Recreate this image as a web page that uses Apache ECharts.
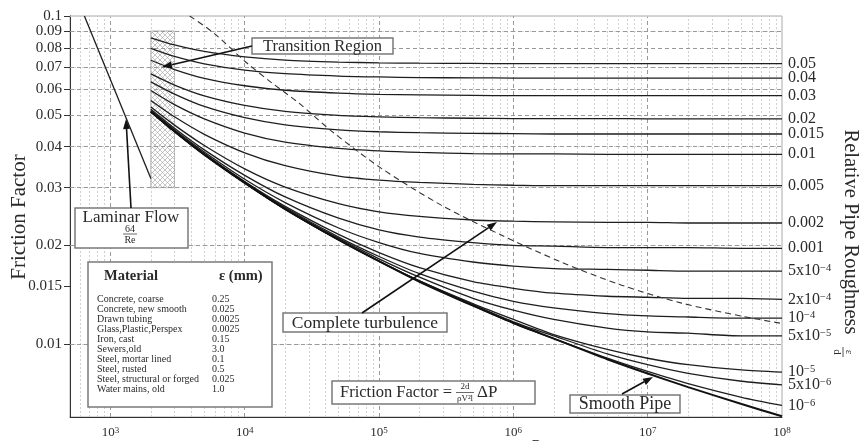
<!DOCTYPE html>
<html><head><meta charset="utf-8">
<script src="https://cdn.jsdelivr.net/npm/echarts@6/dist/echarts.min.js"></script>
<style>html,body{margin:0;padding:0;background:#fff}#c{width:859px;height:441px}</style>
</head><body><div id="c"></div>
<script>
// ---------------- DATA ----------------
const reynoldsPts = [2000,3000,5000,10000,20000,50000,1e5,2e5,5e5,1e6,2e6,5e6,1e7,2e7,5e7,1e8];
const f005  = [0.0858,0.0816,0.0780,0.0751,0.0734,0.0724,0.0720,0.0718,0.0717,0.0716,0.0716,0.0716,0.0716,0.0716,0.0716,0.0716];
const f004  = [0.0797,0.0753,0.0715,0.0684,0.0667,0.0656,0.0652,0.0649,0.0648,0.0647,0.0647,0.0647,0.0647,0.0647,0.0647,0.0647];
const f003  = [0.0733,0.0687,0.0646,0.0613,0.0594,0.0582,0.0577,0.0575,0.0573,0.0572,0.0572,0.0572,0.0572,0.0572,0.0572,0.0572];
const f002  = [0.0666,0.0616,0.0571,0.0534,0.0512,0.0498,0.0493,0.0490,0.0488,0.0487,0.0487,0.0487,0.0486,0.0486,0.0486,0.0486];
const f0015 = [0.0630,0.0578,0.0530,0.0490,0.0466,0.0450,0.0444,0.0441,0.0439,0.0438,0.0437,0.0437,0.0437,0.0437,0.0437,0.0437];
const f001  = [0.0593,0.0537,0.0486,0.0440,0.0413,0.0395,0.0388,0.0384,0.0381,0.0380,0.0380,0.0379,0.0379,0.0379,0.0379,0.0379];
const f0005 = [0.0553,0.0493,0.0436,0.0383,0.0350,0.0325,0.0316,0.0311,0.0307,0.0305,0.0304,0.0304,0.0304,0.0304,0.0304,0.0304];
const f0002 = [0.0528,0.0465,0.0403,0.0342,0.0301,0.0268,0.0253,0.0245,0.0239,0.0237,0.0236,0.0235,0.0235,0.0234,0.0234,0.0234];
const f0001 = [0.0520,0.0455,0.0391,0.0327,0.0281,0.0242,0.0223,0.0212,0.0204,0.0200,0.0199,0.0197,0.0197,0.0197,0.0196,0.0196];
const f5em4 = [0.0515,0.0450,0.0385,0.0318,0.0270,0.0226,0.0204,0.0189,0.0178,0.0173,0.0170,0.0169,0.0168,0.0167,0.0167,0.0167];
const f2em4 = [0.0513,0.0447,0.0381,0.0313,0.0263,0.0216,0.0190,0.0171,0.0155,0.0148,0.0143,0.0140,0.0139,0.0138,0.0138,0.0137];
const f1em4 = [0.0512,0.0446,0.0380,0.0312,0.0261,0.0212,0.0185,0.0164,0.0145,0.0135,0.0129,0.0124,0.0122,0.0121,0.0120,0.0120];
const f5em5 = [0.0511,0.0445,0.0379,0.0311,0.0259,0.0210,0.0182,0.0160,0.0138,0.0127,0.0119,0.0112,0.0109,0.0108,0.0106,0.0106];
const f1em5 = [0.0511,0.0445,0.0379,0.0310,0.0258,0.0208,0.0179,0.0156,0.0133,0.0119,0.0107,0.00964,0.00906,0.00866,0.00835,0.00822];
const f5em6 = [0.0511,0.0445,0.0378,0.0310,0.0258,0.0208,0.0179,0.0156,0.0132,0.0117,0.0106,0.00934,0.00866,0.00815,0.00771,0.00752];
const f1em6 = [0.0511,0.0445,0.0378,0.0310,0.0258,0.0208,0.0179,0.0155,0.0131,0.0116,0.0104,0.00907,0.00826,0.00758,0.00689,0.00651];
const fSmooth = [0.0511,0.0445,0.0378,0.0310,0.0258,0.0208,0.0179,0.0155,0.0131,0.0116,0.0104,0.00900,0.00814,0.00740,0.00657,0.00603];

const roughnessLabels = ['0.05','0.04','0.03','0.02','0.015','0.01','0.005','0.002','0.001',
  '5x10{s|−4}','2x10{s|−4}','10{s|−4}','5x10{s|−5}','10{s|−5}','5x10{s|−6}','10{s|−6}'];
const roughnessCurves = [f005,f004,f003,f002,f0015,f001,f0005,f0002,f0001,f5em4,f2em4,f1em4,f5em5,f1em5,f5em6,f1em6];

const laminarRe = [640, 2000];
const laminarF  = [0.1, 0.032];

const turbRe = [3890, 5870, 10170, 15630, 25290, 46130, 103500, 290100, 813700, 2281000, 6398000, 17940000, 50280000, 96600000];
const turbF  = [0.1, 0.0888, 0.0724, 0.0629, 0.0543, 0.0440, 0.0344, 0.02653, 0.02150, 0.01778, 0.01513, 0.01334, 0.01217, 0.01159];

const transRe = [2000, 3000];
const transF  = [0.03, 0.09];

const xTickValues = [1e3,1e4,1e5,1e6,1e7,1e8];
const yTickValues = [0.1,0.09,0.08,0.07,0.06,0.05,0.04,0.03,0.02,0.015,0.01];
const xGridMajor = [1e3,1e4,1e5,1e6,1e7];
const xGridMinor = [600,700,800,900,2e3,3e3,4e3,5e3,6e3,7e3,8e3,9e3,2e4,3e4,4e4,5e4,6e4,7e4,8e4,9e4,
  2e5,3e5,4e5,5e5,6e5,7e5,8e5,9e5,2e6,3e6,4e6,5e6,6e6,7e6,8e6,9e6,2e7,3e7,4e7,5e7,6e7,7e7,8e7,9e7];
const yGridMajor = [0.09,0.08,0.07,0.06,0.05,0.04,0.03,0.02,0.015,0.01];
const yGridMinor = [0.095,0.085,0.075,0.065,0.055,0.045,0.035,0.025,0.0175,0.0125,0.009,0.008,0.007];

const materials = ['Concrete, coarse','Concrete, new smooth','Drawn tubing','Glass,Plastic,Perspex','Iron, cast',
  'Sewers,old','Steel, mortar lined','Steel, rusted','Steel, structural or forged','Water mains, old'];
const materialEps = ['0.25','0.025','0.0025','0.0025','0.15','3.0','0.1','0.5','0.025','1.0'];

// ---------------- CHART ----------------
const FONT = '"Liberation Serif", "DejaVu Serif", serif';
const TXT = '#2a2a2a';
const chart = echarts.init(document.getElementById('c'), null, {renderer:'canvas'});

const hatch = document.createElement('canvas');
hatch.width = 5; hatch.height = 5;
(function(){
  const g = hatch.getContext('2d');
  g.fillStyle = '#fff'; g.fillRect(0,0,5,5);
  g.strokeStyle = '#aaa'; g.lineWidth = 0.7;
  g.beginPath(); g.moveTo(0,0); g.lineTo(5,5); g.moveTo(5,0); g.lineTo(0,5); g.stroke();
})();

const series = [];
series.push({
  type:'line', data:[], silent:true, z:1,
  markLine:{ silent:true, symbol:['none','none'], label:{show:false}, animation:false,
    data: [].concat(
      xGridMinor.map(v=>({xAxis:v, lineStyle:{color:'#c4c4c4', type:[2,2], width:0.8}})),
      xGridMajor.map(v=>({xAxis:v, lineStyle:{color:'#999', type:[4,3], width:1}})),
      yGridMinor.map(v=>({yAxis:v, lineStyle:{color:'#d0d0d0', type:[2,2], width:0.8}})),
      yGridMajor.map(v=>({yAxis:v, lineStyle:{color:'#999', type:[4,3], width:1}}))
    )},
  markArea:{ silent:true, itemStyle:{color:{image:hatch, repeat:'repeat'}, borderColor:'#999', borderWidth:0.8},
    data:[[{coord:[transRe[0], transF[1]]},{coord:[transRe[1], transF[0]]}]]}
});
roughnessCurves.forEach((arr,i)=>{
  series.push({
    type:'line', name: roughnessLabels[i], showSymbol:false, smooth:0.25, z:5,
    data: reynoldsPts.map((r,j)=>[r, arr[j]]),
    lineStyle:{color:'#1e1e1e', width:1.3},
    endLabel:{show:true, formatter: roughnessLabels[i], distance:6, color:TXT, fontFamily:FONT, fontSize:16,
      rich:{s:{fontSize:10.5, fontFamily:FONT, color:TXT, verticalAlign:'top', lineHeight:16}}}
  });
});
series.push({type:'line', name:'smooth', showSymbol:false, smooth:0.25, z:6,
  data: reynoldsPts.map((r,j)=>[r, fSmooth[j]]), lineStyle:{color:'#111', width:2}});
series.push({type:'line', name:'laminar', showSymbol:false, z:5,
  data: laminarRe.map((r,j)=>[r, laminarF[j]]), lineStyle:{color:'#1e1e1e', width:1.3}});
series.push({type:'line', name:'turb', showSymbol:false, smooth:0.3, z:5,
  data: turbRe.map((r,j)=>[r, turbF[j]]), lineStyle:{color:'#333', width:1.1, type:[6,4]}});

function arrow(x1,y1,x2,y2){
  const a = Math.atan2(y2-y1, x2-x1), L = 10, W = 3.5;
  const bx = x2 - L*Math.cos(a), by = y2 - L*Math.sin(a);
  return [
    {type:'line', z:50, shape:{x1:x1,y1:y1,x2:bx,y2:by}, style:{stroke:'#111', lineWidth:1.6}},
    {type:'polygon', z:50, shape:{points:[[x2,y2],[bx - W*Math.sin(a), by + W*Math.cos(a)],[bx + W*Math.sin(a), by - W*Math.cos(a)]]}, style:{fill:'#111'}}
  ];
}
function box(x,y,w,h){ return {type:'rect', z:40, shape:{x:x,y:y,width:w,height:h}, style:{fill:'#fff', stroke:'#7a7a7a', lineWidth:1.5}}; }
function txt(x,y,t,size,opt){ opt=opt||{}; return {type:'text', z:45, x:x, y:y, rotation:opt.rot||0,
  style:{text:t, font:(opt.bold?'bold ':'')+size+'px '+FONT, fill:TXT, align:opt.align||'left', verticalAlign:'middle'}}; }

const g = [];
g.push(txt(19, 217, 'Friction Factor', 21, {align:'center', rot:Math.PI/2}));
g.push(txt(850, 232, 'Relative Pipe Roughness', 20.5, {align:'center', rot:-Math.PI/2}));
g.push({type:'group', x:843, y:352, rotation:-Math.PI/2, z:45, children:[
  {type:'text', x:0, y:-6, style:{text:'ε', font:'11px '+FONT, fill:TXT, align:'center', verticalAlign:'middle'}},
  {type:'line', shape:{x1:-5,y1:0,x2:5,y2:0}, style:{stroke:TXT, lineWidth:0.8}},
  {type:'text', x:0, y:6, style:{text:'d', font:'11px '+FONT, fill:TXT, align:'center', verticalAlign:'middle'}}
]});
g.push(txt(540, 446, 'Re', 15, {align:'center'}));
// Transition region
g.push(box(252,38,141,16)); g.push(txt(322.5,46.5,'Transition Region',16.5,{align:'center'}));
g.push(...arrow(252,46,162,67));
// Laminar flow
g.push(box(75,208,113,40)); g.push(txt(131,218,'Laminar Flow',17,{align:'center'}));
g.push(txt(130,229,'64',10,{align:'center'}));
g.push({type:'line', z:45, shape:{x1:123,y1:234,x2:137,y2:234}, style:{stroke:TXT, lineWidth:0.7}});
g.push(txt(130,240.5,'Re',10,{align:'center'}));
g.push(...arrow(131,208,126,119));
// Material table
g.push(box(88,262,184,145));
g.push(txt(104,276,'Material',14.5,{bold:true}));
g.push(txt(219,276,'ε (mm)',14.5,{bold:true}));
materials.forEach((m,i)=>{ g.push(txt(97, 299+i*10, m, 10)); g.push(txt(212, 299+i*10, materialEps[i], 10)); });
// Complete turbulence
g.push(box(283,313,164,19)); g.push(txt(365,323,'Complete turbulence',17.5,{align:'center'}));
g.push(...arrow(362,313,497,222));
// Friction factor formula
g.push(box(332,381,203,23));
g.push(txt(340,393,'Friction Factor =',16.5));
g.push(txt(465,387,'2d',9,{align:'center'}));
g.push({type:'line', z:45, shape:{x1:456,y1:392.5,x2:474,y2:392.5}, style:{stroke:TXT, lineWidth:0.7}});
g.push(txt(465,398.5,'ρV²l',9,{align:'center'}));
g.push(txt(477,393,'ΔP',17));
// Smooth pipe
g.push(box(570,395,110,18)); g.push(txt(625,404.5,'Smooth Pipe',18,{align:'center'}));
g.push(...arrow(622,394,653,377));

chart.setOption({
  animation:false,
  backgroundColor:'#fff',
  grid:{left:70, right:77, top:16, bottom:24, show:true, borderColor:'#aaa', borderWidth:1, backgroundColor:'transparent'},
  xAxis:{type:'log', logBase:10, min:500, max:1e8,
    axisLine:{show:true, lineStyle:{color:'#333', width:1}}, axisTick:{show:false}, splitLine:{show:false},
    axisLabel:{customValues:xTickValues, margin:9, color:TXT, fontFamily:FONT, fontSize:13, hideOverlap:false,
      formatter:(v)=>'10{s|'+Math.round(Math.log10(v))+'}',
      rich:{s:{fontSize:9, fontFamily:FONT, color:TXT, verticalAlign:'top', lineHeight:14}}}},
  yAxis:{type:'log', logBase:10, min:0.006, max:0.1,
    axisLine:{show:true, lineStyle:{color:'#333', width:1}},
    axisTick:{show:true, customValues:yTickValues, length:6, lineStyle:{color:'#333'}},
    splitLine:{show:false},
    axisLabel:{customValues:yTickValues, margin:8, color:TXT, fontFamily:FONT, fontSize:15, lineHeight:14,
      showMaxLabel:true, hideOverlap:false,
      formatter:(v)=>String(+Number(v).toPrecision(3))}},
  series: series,
  graphic:{elements:g}
});
</script></body></html>
